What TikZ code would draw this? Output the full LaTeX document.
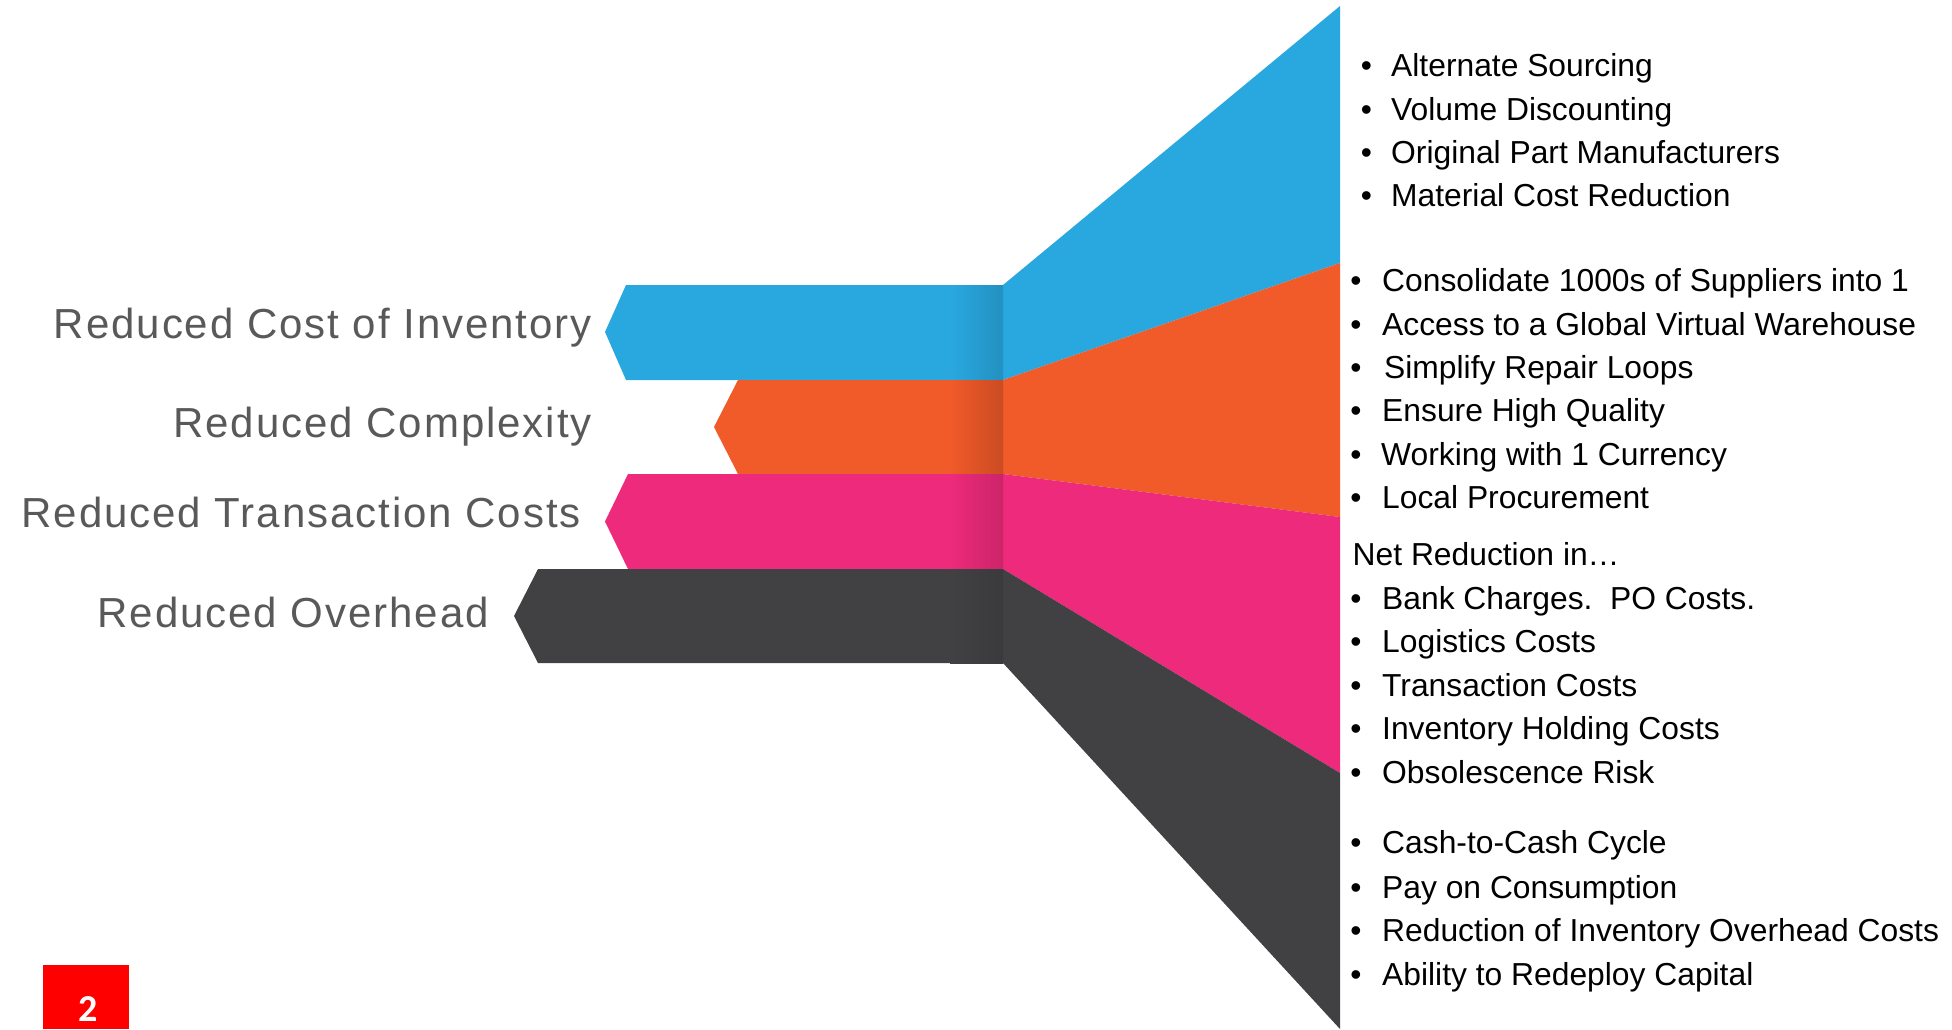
\documentclass[tikz,border=0pt]{standalone}
\usepackage{fontspec}
\setmainfont{Liberation Sans}
\newfontfamily\labelfont[LetterSpace=4.6]{Liberation Sans}
\newfontfamily\numfont{Carlito}
\definecolor{cblue}{RGB}{41,168,224}
\definecolor{corange}{RGB}{241,90,41}
\definecolor{cpink}{RGB}{237,42,123}
\definecolor{cdark}{RGB}{65,64,66}
\definecolor{lblgray}{RGB}{89,89,89}
\definecolor{cred}{RGB}{255,0,0}
\begin{document}
\begin{tikzpicture}[x=1pt,y=-1pt,
  lbl/.style={anchor=base east, inner sep=0pt, text=lblgray, font=\labelfont\fontsize{42}{50}\selectfont},
  item/.style={anchor=base west, inner sep=0pt, text=black, font=\fontsize{31.8}{38}\selectfont},
  dot/.style={anchor=base, inner sep=0pt, text=black, font=\fontsize{31.8}{38}\selectfont}]
\useasboundingbox (0,0) rectangle (1952,1029);
\fill[white] (0,0) rectangle (1952,1029);

% ribbons
\fill[cblue] (605,332) -- (626,285) -- (1003,285) -- (1340,6) -- (1340,263) -- (1003,380) -- (626,380) -- cycle;
\fill[corange] (714,427) -- (738,380) -- (1003,380) -- (1340,263) -- (1340,517) -- (1003,474) -- (738,474) -- cycle;
\fill[cpink] (605,521.5) -- (628,474) -- (1003,474) -- (1340,517) -- (1340,773) -- (1003,569) -- (628,569) -- cycle;
\fill[cdark] (514,616) -- (538,569) -- (1003,569) -- (1340,773) -- (1340,1029) -- (1003,663) -- (538,663) -- cycle;

% darkening near the fold
\shade[left color=cblue, right color=cblue!86!black] (950,285) rectangle (1003,380);
\shade[left color=corange, right color=corange!84!black] (950,380) rectangle (1003,474);
\shade[left color=cpink, right color=cpink!86!black] (950,474) rectangle (1003,569);
\shade[left color=cdark, right color=cdark!90!black] (950,569) rectangle (1003,663);

% left labels
\node[lbl] (l1) at (592,338) {Reduced Cost of Inventory};
\node[lbl] (l2) at (592,437) {Reduced Complexity};
\node[lbl] (l3) at (581,527) {Reduced Transaction Costs};
\node[lbl] (l4) at (489,627) {Reduced Overhead};

% group 1
\node[dot] (b1) at (1366.5,76.7) {•};  \node[item] (i1) at (1391,76.7) {Alternate Sourcing};
\node[dot] (b2) at (1366.5,120) {•};   \node[item] (i2) at (1391,120) {Volume Discounting};
\node[dot] (b3) at (1366.5,163.3) {•}; \node[item] (i3) at (1391,163.3) {Original Part Manufacturers};
\node[dot] (b4) at (1366.5,206.7) {•}; \node[item] (i4) at (1391,206.7) {Material Cost Reduction};

% group 2
\node[dot] (b5) at (1356,291.7) {•};  \node[item] (i5) at (1382,291.7) {Consolidate 1000s of Suppliers into 1};
\node[dot] (b6) at (1356,335) {•};    \node[item] (i6) at (1382,335) {Access to a Global Virtual Warehouse};
\node[dot] (b7) at (1356,378.3) {•};  \node[item] (i7) at (1384,378.3) {Simplify Repair Loops};
\node[dot] (b8) at (1356,421.7) {•};  \node[item] (i8) at (1382,421.7) {Ensure High Quality};
\node[dot] (b9) at (1356,465) {•};    \node[item] (i9) at (1381,465) {Working with 1 Currency};
\node[dot] (b10) at (1356,508.3) {•}; \node[item] (i10) at (1382,508.3) {Local Procurement};

% group 3
\node[item] (net) at (1352.5,565) {Net Reduction in…};
\node[dot] (b11) at (1356,609.3) {•}; \node[item] (i11) at (1382,609.3) {Bank Charges.\ \ PO Costs.};
\node[dot] (b12) at (1356,652.7) {•}; \node[item] (i12) at (1382,652.7) {Logistics Costs};
\node[dot] (b13) at (1356,696) {•};   \node[item] (i13) at (1382,696) {Transaction Costs};
\node[dot] (b14) at (1356,739.3) {•}; \node[item] (i14) at (1382,739.3) {Inventory Holding Costs};
\node[dot] (b15) at (1356,783) {•};   \node[item] (i15) at (1382,783) {Obsolescence Risk};

% group 4
\node[dot] (b16) at (1356,853) {•};   \node[item] (i16) at (1382,853) {Cash-to-Cash Cycle};
\node[dot] (b17) at (1356,898) {•};   \node[item] (i17) at (1382,898) {Pay on Consumption};
\node[dot] (b18) at (1356,941.7) {•}; \node[item] (i18) at (1382,941.7) {Reduction of Inventory Overhead Costs};
\node[dot] (b19) at (1356,985) {•};   \node[item] (i19) at (1382,985) {Ability to Redeploy Capital};

% page number box
\fill[cred] (43,965) rectangle (129,1029);
\node[anchor=base, inner sep=0pt, text=white, font=\numfont\bfseries\fontsize{38}{46}\selectfont] (pg) at (88,1021) {2};
\end{tikzpicture}
\end{document}
